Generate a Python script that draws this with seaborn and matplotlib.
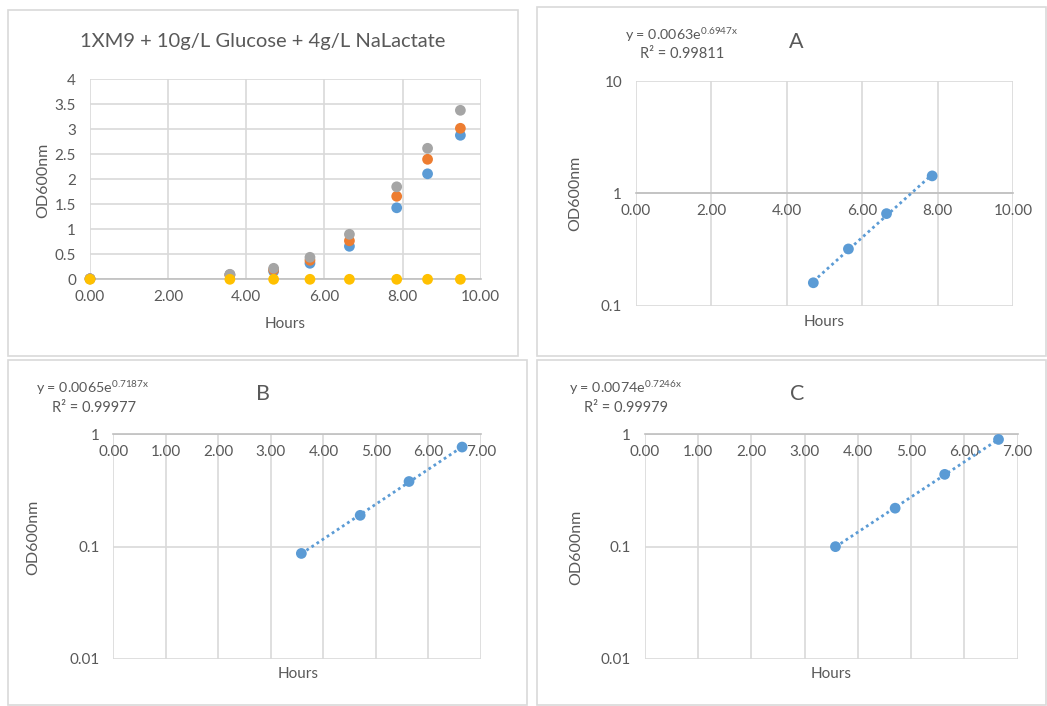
import numpy as np
import pandas as pd
import seaborn as sns
import matplotlib.pyplot as plt
from matplotlib.patches import Rectangle
from matplotlib.ticker import NullLocator

# Growth data
hours = [0.00, 3.58, 4.70, 5.63, 6.64, 7.85, 8.64, 9.48]
od_blue = [0.01, 0.09, 0.16, 0.32, 0.66, 1.43, 2.11, 2.88]
od_orange = [0.01, 0.087, 0.19, 0.38, 0.77, 1.66, 2.40, 3.02]
od_grey = [0.01, 0.10, 0.22, 0.44, 0.90, 1.85, 2.62, 3.38]
od_yellow = [0.0, 0.0, 0.0, 0.0, 0.0, 0.0, 0.0, 0.0]

series_names = ["rep1", "rep2", "rep3", "blank"]
colors = ["#5B9BD5", "#ED7D31", "#A5A5A5", "#FFC000"]

# exponential-phase subsets used for the fits (A = rep1, B = rep2, C = rep3)
fit_a_hours = [4.70, 5.63, 6.64, 7.85]
fit_a_od = [0.16, 0.32, 0.66, 1.43]
fit_b_hours = [3.58, 4.70, 5.63, 6.64]
fit_b_od = [0.087, 0.19, 0.38, 0.77]
fit_c_hours = [3.58, 4.70, 5.63, 6.64]
fit_c_od = [0.10, 0.22, 0.44, 0.90]

fit_labels = {
    "A": ("0.0063", "0.6947", "0.99811"),
    "B": ("0.0065", "0.7187", "0.99977"),
    "C": ("0.0074", "0.7246", "0.99979"),
}

sns.set_style("white")
plt.rcParams["font.family"] = ["Lato", "DejaVu Sans"]
TXT = "#595959"
GRID = "#D9D9D9"
AXLINE = "#BFBFBF"

W, H = 1047, 706
fig = plt.figure(figsize=(W / 100, H / 100), dpi=100)


def box(x0, y0, x1, y1):
    # pixel box (top-left origin) -> figure fraction [l, b, w, h]
    return [x0 / W, 1 - y1 / H, (x1 - x0) / W, (y1 - y0) / H]


def ftext(x, y, s, **kw):
    fig.text(x / W, 1 - y / H, s, color=TXT, ha="center", va="center", **kw)


# chart-area borders
for x0, y0, x1, y1 in [(8, 10, 518, 356), (537, 7, 1046, 356),
                       (8, 360, 527, 705), (537, 360, 1046, 705)]:
    fig.patches.append(Rectangle((x0 / W, 1 - y1 / H), (x1 - x0) / W, (y1 - y0) / H,
                                 transform=fig.transFigure, fill=False,
                                 edgecolor=GRID, lw=1.2))


def style(ax):
    for s in ["left", "right", "top"]:
        ax.spines[s].set_visible(False)
    ax.spines["bottom"].set_color(AXLINE)
    ax.spines["bottom"].set_linewidth(1.2)
    ax.grid(True, color=GRID, lw=1.2)
    ax.set_axisbelow(True)
    ax.tick_params(length=0, colors=TXT, labelsize=11)
    ax.tick_params(axis="y", pad=10)
    ax.tick_params(axis="x", pad=8)
    ax.set_xlabel("")
    ax.set_ylabel("")


# --- top-left: all replicates, linear scale
df = pd.DataFrame({
    "Hours": hours * 4,
    "OD600nm": od_blue + od_orange + od_grey + od_yellow,
    "series": [n for n in series_names for _ in hours],
})
ax0 = fig.add_axes(box(90, 79.3, 480.7, 279.3))
sns.scatterplot(data=df, x="Hours", y="OD600nm", hue="series", palette=colors,
                s=60, edgecolor="none", legend=False, ax=ax0, zorder=3, clip_on=False)
ax0.set_xlim(0, 10)
ax0.set_ylim(0, 4)
ax0.set_xticks(np.arange(0, 10.1, 2), labels=[f"{v:.2f}" for v in np.arange(0, 10.1, 2)])
ax0.set_yticks(np.arange(0, 4.1, 0.5), labels=["0", "0.5", "1", "1.5", "2", "2.5", "3", "3.5", "4"])
style(ax0)
ftext(263, 42, "1XM9 + 10g/L Glucose + 4g/L NaLactate", fontsize=14.5)
ftext(285, 324, "Hours", fontsize=11)
ftext(43, 180, "OD600nm", fontsize=11.5, rotation=90)


def log_panel(rect, xs, ys, xmax, xstep, ylims, yt, ytl, letter, centers):
    ax = fig.add_axes(box(*rect))
    sns.scatterplot(x=xs, y=ys, color=colors[0], s=60, edgecolor="none", ax=ax,
                    zorder=4, clip_on=False)
    # exponential trendline from a least-squares fit on log(y)
    k, ln_a = np.polyfit(xs, np.log(ys), 1)
    xx = np.linspace(min(xs), max(xs), 50)
    ax.plot(xx, np.exp(ln_a) * np.exp(k * xx), ls=(0, (1, 1.2)), lw=2,
            color=colors[0], zorder=3)
    ax.set_yscale("log")
    ax.set_xlim(0, xmax)
    ax.set_ylim(*ylims)
    ticks = np.arange(0, xmax + 0.01, xstep)
    ax.set_xticks(ticks, labels=[f"{v:.2f}" for v in ticks])
    ax.set_yticks(yt, labels=ytl)
    ax.yaxis.set_minor_locator(NullLocator())
    style(ax)
    ax.spines["bottom"].set_position(("data", 1))
    a_s, k_s, r2 = fit_labels[letter]
    (tx, ty), (ex, ey), (rx, ry), (hx, hy), (ox, oy) = centers
    ftext(tx, ty, letter, fontsize=15.5)
    ftext(ex, ey, "y = " + a_s + r"e$^{\mathregular{" + k_s + "x}}$", fontsize=10.3)
    ftext(rx, ry, "R² = " + r2, fontsize=10.5)
    ftext(hx, hy, "Hours", fontsize=11)
    ftext(ox, oy, "OD600nm", fontsize=11.5, rotation=90)
    return ax


log_panel((636, 81, 1013.3, 305.7), fit_a_hours, fit_a_od, 10, 2, (0.1, 10),
          [0.1, 1, 10], ["0.1", "1", "10"], "A",
          [(796, 42), (682, 35), (682, 54), (824, 322), (575, 193)])
log_panel((113.3, 434.3, 481, 659), fit_b_hours, fit_b_od, 7, 1, (0.01, 1),
          [0.01, 0.1, 1], ["0.01", "0.1", "1"], "B",
          [(263, 394), (93, 388), (94, 408), (298, 674), (33, 537)])
log_panel((644.7, 434.3, 1017.7, 659), fit_c_hours, fit_c_od, 7, 1, (0.01, 1),
          [0.01, 0.1, 1], ["0.01", "0.1", "1"], "C",
          [(797, 394), (626, 388), (626, 408), (831, 674), (576, 547)])

fig.savefig("out.png", dpi=100, facecolor="white")
